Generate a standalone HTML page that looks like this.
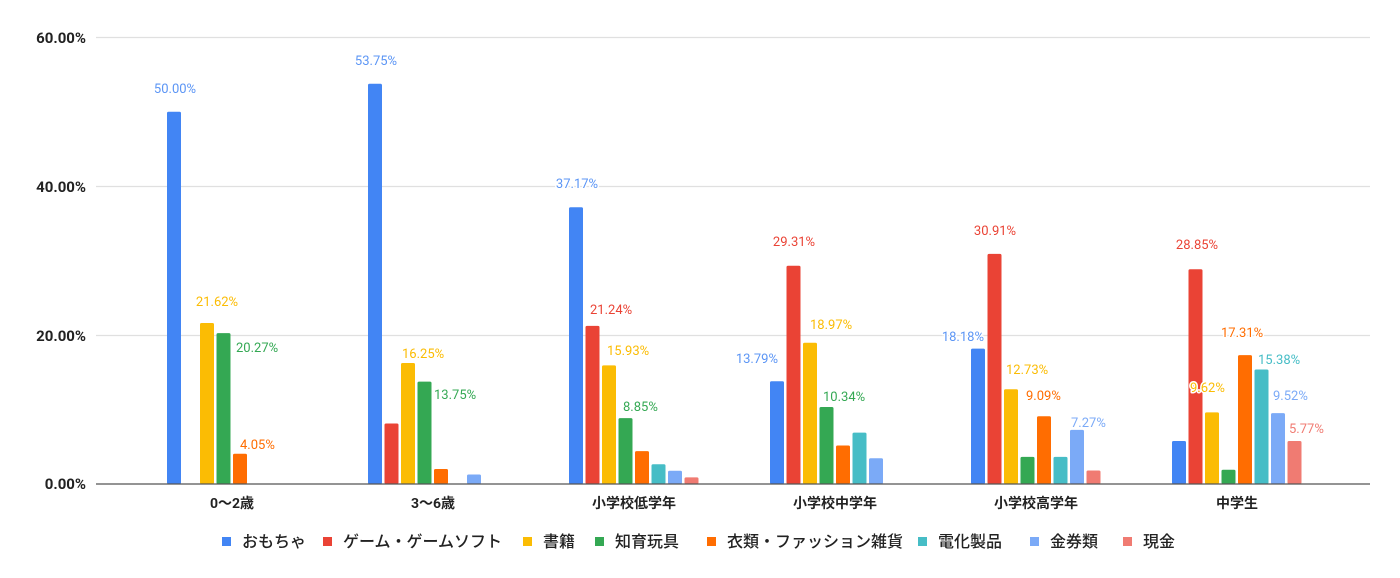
<!DOCTYPE html>
<html><head><meta charset="utf-8"><style>
html,body{margin:0;padding:0;background:#fff;}
svg{display:block;}
text{font-family:"Roboto","Liberation Sans","Noto Sans CJK JP",sans-serif;}
.lbl{font-size:13px;stroke:#fff;stroke-width:3px;paint-order:stroke;stroke-linejoin:round;}
.ax{font-size:14px;font-weight:bold;fill:#222;}
.yt{font-size:15px;font-weight:bold;fill:#222;}
.lg{font-size:16px;fill:#222;font-weight:500;}
</style></head><body>
<svg width="1400" height="578" viewBox="0 0 1400 578" xmlns="http://www.w3.org/2000/svg">
<g stroke="#e0e0e0" stroke-width="1.2">
<line x1="96" y1="37.5" x2="1370" y2="37.5"/>
<line x1="96" y1="186.5" x2="1370" y2="186.5"/>
<line x1="96" y1="335.5" x2="1370" y2="335.5"/>
</g>
<g class="yt" text-anchor="end">
<text x="86" y="43">60.00%</text>
<text x="86" y="192">40.00%</text>
<text x="86" y="341">20.00%</text>
<text x="86" y="489">0.00%</text>
</g>
<g>
<rect x="167" y="111.8" width="14" height="372.2" rx="1.5" fill="#4285f4"/>
<rect x="200" y="323" width="14" height="161" rx="1.5" fill="#fbbc04"/>
<rect x="216.5" y="333.1" width="14" height="150.9" rx="1.5" fill="#34a853"/>
<rect x="233" y="453.8" width="14" height="30.2" rx="1.5" fill="#ff6d01"/>
<rect x="368" y="83.8" width="14" height="400.2" rx="1.5" fill="#4285f4"/>
<rect x="384.5" y="423.5" width="14" height="60.5" rx="1.5" fill="#ea4335"/>
<rect x="401" y="363" width="14" height="121" rx="1.5" fill="#fbbc04"/>
<rect x="417.5" y="381.6" width="14" height="102.4" rx="1.5" fill="#34a853"/>
<rect x="434" y="469" width="14" height="15" rx="1.5" fill="#ff6d01"/>
<rect x="467" y="474.5" width="14" height="9.5" rx="1.5" fill="#7baaf7"/>
<rect x="569" y="207.3" width="14" height="276.7" rx="1.5" fill="#4285f4"/>
<rect x="585.5" y="325.9" width="14" height="158.1" rx="1.5" fill="#ea4335"/>
<rect x="602" y="365.4" width="14" height="118.6" rx="1.5" fill="#fbbc04"/>
<rect x="618.5" y="418.1" width="14" height="65.9" rx="1.5" fill="#34a853"/>
<rect x="635" y="451.1" width="14" height="32.9" rx="1.5" fill="#ff6d01"/>
<rect x="651.5" y="464.3" width="14" height="19.7" rx="1.5" fill="#46bdc6"/>
<rect x="668" y="470.8" width="14" height="13.2" rx="1.5" fill="#7baaf7"/>
<rect x="684.5" y="477.4" width="14" height="6.6" rx="1.5" fill="#f07b72"/>
<rect x="770" y="381.3" width="14" height="102.7" rx="1.5" fill="#4285f4"/>
<rect x="786.5" y="265.8" width="14" height="218.2" rx="1.5" fill="#ea4335"/>
<rect x="803" y="342.8" width="14" height="141.2" rx="1.5" fill="#fbbc04"/>
<rect x="819.5" y="407" width="14" height="77" rx="1.5" fill="#34a853"/>
<rect x="836" y="445.5" width="14" height="38.5" rx="1.5" fill="#ff6d01"/>
<rect x="852.5" y="432.6" width="14" height="51.4" rx="1.5" fill="#46bdc6"/>
<rect x="869" y="458.3" width="14" height="25.7" rx="1.5" fill="#7baaf7"/>
<rect x="971" y="348.6" width="14" height="135.4" rx="1.5" fill="#4285f4"/>
<rect x="987.5" y="253.9" width="14" height="230.1" rx="1.5" fill="#ea4335"/>
<rect x="1004" y="389.2" width="14" height="94.8" rx="1.5" fill="#fbbc04"/>
<rect x="1020.5" y="456.9" width="14" height="27.1" rx="1.5" fill="#34a853"/>
<rect x="1037" y="416.3" width="14" height="67.7" rx="1.5" fill="#ff6d01"/>
<rect x="1053.5" y="456.9" width="14" height="27.1" rx="1.5" fill="#46bdc6"/>
<rect x="1070" y="429.9" width="14" height="54.1" rx="1.5" fill="#7baaf7"/>
<rect x="1086.5" y="470.5" width="14" height="13.5" rx="1.5" fill="#f07b72"/>
<rect x="1172" y="441" width="14" height="43" rx="1.5" fill="#4285f4"/>
<rect x="1188.5" y="269.2" width="14" height="214.8" rx="1.5" fill="#ea4335"/>
<rect x="1205" y="412.4" width="14" height="71.6" rx="1.5" fill="#fbbc04"/>
<rect x="1221.5" y="469.7" width="14" height="14.3" rx="1.5" fill="#34a853"/>
<rect x="1238" y="355.1" width="14" height="128.9" rx="1.5" fill="#ff6d01"/>
<rect x="1254.5" y="369.5" width="14" height="114.5" rx="1.5" fill="#46bdc6"/>
<rect x="1271" y="413.1" width="14" height="70.9" rx="1.5" fill="#7baaf7"/>
<rect x="1287.5" y="441" width="14" height="43" rx="1.5" fill="#f07b72"/>
</g>
<line x1="96" y1="484" x2="1370" y2="484" stroke="#555" stroke-width="1.3"/>
<g class="ax" text-anchor="middle">
<text x="232" y="508">0〜2歳</text>
<text x="433" y="508">3〜6歳</text>
<text x="634" y="508">小学校低学年</text>
<text x="835" y="508">小学校中学年</text>
<text x="1036" y="508">小学校高学年</text>
<text x="1237" y="508">中学生</text>
</g>
<g class="lbl">
<text x="175" y="93" fill="#5b95f5" text-anchor="middle">50.00%</text>
<text x="376" y="65" fill="#5b95f5" text-anchor="middle">53.75%</text>
<text x="217" y="306" fill="#fbbc04" text-anchor="middle">21.62%</text>
<text x="236" y="352" fill="#34a853">20.27%</text>
<text x="240" y="449" fill="#ff6d01">4.05%</text>
<text x="402" y="358" fill="#fbbc04">16.25%</text>
<text x="434" y="399" fill="#34a853">13.75%</text>
<text x="577" y="188" fill="#5b95f5" text-anchor="middle">37.17%</text>
<text x="590" y="314" fill="#ea4335">21.24%</text>
<text x="607" y="355" fill="#fbbc04">15.93%</text>
<text x="623" y="411" fill="#34a853">8.85%</text>
<text x="778" y="363" fill="#5b95f5" text-anchor="end">13.79%</text>
<text x="794" y="246" fill="#ea4335" text-anchor="middle">29.31%</text>
<text x="810" y="329" fill="#fbbc04">18.97%</text>
<text x="823" y="401" fill="#34a853">10.34%</text>
<text x="984" y="341" fill="#5b95f5" text-anchor="end">18.18%</text>
<text x="995" y="235" fill="#ea4335" text-anchor="middle">30.91%</text>
<text x="1006" y="374" fill="#fbbc04">12.73%</text>
<text x="1026" y="400" fill="#ff6d01">9.09%</text>
<text x="1071" y="427" fill="#7baaf7">7.27%</text>
<text x="1197" y="249" fill="#ea4335" text-anchor="middle">28.85%</text>
<text x="1190" y="392" fill="#fbbc04">9.62%</text>
<text x="1221" y="337" fill="#ff6d01">17.31%</text>
<text x="1258" y="364" fill="#46bdc6">15.38%</text>
<text x="1273" y="400" fill="#7baaf7">9.52%</text>
<text x="1289" y="433" fill="#f07b72">5.77%</text>
</g>
<g class="lg">
<rect x="222" y="537" width="9" height="9" fill="#4285f4"/><text x="242" y="547">おもちゃ</text>
<rect x="323" y="537" width="9" height="9" fill="#ea4335"/><text x="343" y="547">ゲーム・ゲームソフト</text>
<rect x="523" y="537" width="9" height="9" fill="#fbbc04"/><text x="543" y="547">書籍</text>
<rect x="595" y="537" width="9" height="9" fill="#34a853"/><text x="615" y="547">知育玩具</text>
<rect x="707" y="537" width="9" height="9" fill="#ff6d01"/><text x="727" y="547">衣類・ファッション雑貨</text>
<rect x="918" y="537" width="9" height="9" fill="#46bdc6"/><text x="938" y="547">電化製品</text>
<rect x="1030" y="537" width="9" height="9" fill="#7baaf7"/><text x="1050" y="547">金券類</text>
<rect x="1123" y="537" width="9" height="9" fill="#f07b72"/><text x="1143" y="547">現金</text>
</g>
</svg>
</body></html>
